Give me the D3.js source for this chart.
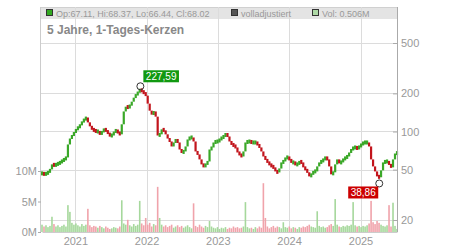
<!DOCTYPE html>
<html>
<head>
<meta charset="utf-8" />
<title>Kerzen</title>
<script src="https://d3js.org/d3.v7.min.js"></script>
<style>
body { margin: 0; background: #fff; }
text { font-family: "Liberation Sans", Arial, sans-serif; }
</style>
</head>
<body>
<script>
// closing prices, every 10 days
var closes = [
	46.7, 45.9, 46.7, 47.6, 50.2, 55.0, 54.0, 55.0, 56.0, 57.0,
	59.0, 60.2, 62.4, 79.0, 88.0, 93.0, 98.0, 104, 108, 112,
	120, 124, 129, 118, 110, 104, 102, 100, 100, 95,
	100, 104, 102, 96, 93, 93, 100, 102, 98, 95,
	114, 144, 157, 155, 160, 172, 185, 196, 203, 217,
	206, 203, 192, 166, 146, 136, 144, 131, 93, 95,
	104, 102, 95, 88, 83.4, 76.2, 81.9, 86.5, 81.9, 72.1,
	68.3, 69.6, 76.2, 86.5, 89.7, 89.7, 83.4, 69.6, 65.9, 60.2,
	55.0, 53.0, 55.0, 58.0, 72.1, 74.8, 81.9, 83.4, 83.4, 86.5,
	89.7, 91.3, 96.4, 91.3, 83.4, 79.0, 77.6, 74.8, 68.3, 65.9,
	63.5, 69.6, 81.9, 83.4, 83.4, 81.9, 81.9, 81.9, 79.0, 74.8,
	69.6, 63.5, 60.2, 57.0, 55.0, 53.0, 52.1, 48.4, 47.6, 51.0,
	57.0, 58.0, 62.4, 62.4, 60.2, 57.0, 57.0, 55.0, 55.0, 58.0,
	57.0, 52.1, 50.2, 47.6, 44.2, 45.9, 48.4, 48.4, 53.0, 57.0,
	58.0, 60.2, 62.4, 60.2, 53.0, 45.9, 47.6, 55.0, 60.2, 56.0,
	58.0, 60.2, 62.4, 63.5, 68.3, 72.1, 74.8, 74.8, 73.5, 76.2,
	79.0, 81.9, 81.9, 81.9, 76.2, 60.2, 53.0, 48.4, 44.2, 43.5,
	49.3, 57.0, 58.0, 58.0, 55.0, 52.1, 60.2, 67.0, 68.02
];

// volume in millions
var volumes = [
	1.2, 0.9, 1.1, 0.8, 1.0, 2.5, 1.3, 0.9, 1.1, 0.8,
	1.0, 1.2, 0.9, 4.4, 3.3, 1.5, 1.2, 1.4, 1.1, 0.9,
	1.3, 1.0, 1.2, 3.8, 1.1, 0.8, 1.0, 0.9, 0.7, 1.0,
	0.8, 0.6, 0.9, 0.7, 0.5, 0.6, 0.8, 0.7, 0.6, 0.9,
	5.2, 1.4, 1.2, 2.0, 1.1, 0.9, 1.3, 1.0, 1.2, 5.1,
	1.4, 1.1, 2.3, 1.2, 1.5, 0.9, 1.3, 1.1, 7.4, 2.3,
	1.2, 0.9, 1.1, 0.8, 1.0, 1.2, 0.7, 0.9, 1.1, 0.8,
	1.0, 0.7, 0.9, 1.1, 0.8, 0.6, 4.7, 1.0, 0.8, 1.2,
	0.9, 0.7, 1.0, 0.8, 1.8, 0.9, 0.7, 0.6, 0.8, 0.5,
	0.7, 0.6, 0.8, 0.5, 0.7, 0.6, 0.9, 0.7, 0.8, 0.6,
	0.7, 0.9, 4.9, 0.8, 0.6, 0.7, 0.5, 0.8, 0.6, 0.9,
	0.7, 8.0, 2.3, 0.9, 0.6, 0.8, 1.0, 0.7, 0.9, 0.8,
	0.6, 1.6, 0.8, 0.7, 0.9, 0.6, 0.8, 0.7, 0.5, 0.8,
	0.7, 0.9, 0.8, 1.0, 1.2, 0.9, 0.8, 0.7, 3.4, 1.0,
	0.8, 0.9, 0.7, 0.8, 1.1, 1.3, 1.0, 5.4, 1.2, 0.9,
	0.8, 1.0, 0.9, 1.1, 1.0, 1.2, 4.9, 1.1, 0.9, 1.0,
	0.8, 1.0, 0.9, 1.1, 1.4, 5.1, 1.6, 1.3, 1.8, 1.5,
	1.2, 1.0, 0.9, 1.1, 4.4, 0.9, 4.8, 1.0, 0.506
];

var priceTicks = [20, 50, 100, 200, 500];
var volTicks = [0, 5, 10];
var startDate = new Date(2020, 6, 14), endDate = new Date(2025, 6, 7);

var extremes = [
	{ date: new Date(2021, 10, 30), value: 227.59, label: "227,59", color: "#119911", side: "up" },
	{ date: new Date(2025, 3, 7), value: 38.86, label: "38,86", color: "#cc0000", side: "down" }
];

var legend = [
	{ x: 46, fill: "#33aa22", t: "Op:67.11, Hi:68.37, Lo:66.44, Cl:68.02" },
	{ x: 231, fill: "#555555", t: "volladjustiert" },
	{ x: 312, fill: "#aed9a6", t: "Vol: 0.506M" }
];

var L = 41, R = 397, T = 7, B = 232;

var n = closes.length;
var dates = d3.range(n).map(function(i){ return new Date(+startDate + i * (endDate - startDate) / (n - 1)); });
var candles = closes.map(function(c, i){
	return { date: dates[i], open: i ? closes[i-1] : c, close: c, vol: volumes[i] };
});

var svg = d3.select("body").append("svg")
		.attr("width", 450)
		.attr("height", 250);

var x = d3.scaleTime().domain([startDate, endDate]).range([L + 1, R]);
var y = d3.scaleLog().domain([20, 500]).range([220, 43]);
var v = d3.scaleLinear().domain([0, 10]).range([B, 171]);

// header band
svg.append("rect").attr("x", L).attr("y", T).attr("width", R - L).attr("height", 12).attr("fill", "#e4e4e4");
svg.append("line").attr("x1", L).attr("x2", R).attr("y1", T + 0.5).attr("y2", T + 0.5).attr("stroke", "#d0d0d0");

// grid
var grid = svg.append("g").attr("stroke", "#dcdcdc").attr("stroke-width", 1);
grid.selectAll(".gx")
	.data(x.ticks(d3.timeYear))
	.enter().append("line")
	.attr("x1", function(d){ return Math.round(x(d)) + 0.5; })
	.attr("x2", function(d){ return Math.round(x(d)) + 0.5; })
	.attr("y1", T).attr("y2", B);
grid.selectAll(".gy")
	.data(priceTicks)
	.enter().append("line")
	.attr("x1", L).attr("x2", R)
	.attr("y1", function(d){ return Math.round(y(d)) + 0.5; })
	.attr("y2", function(d){ return Math.round(y(d)) + 0.5; });

// volume
svg.append("g").selectAll("rect")
	.data(candles)
	.enter().append("rect")
	.attr("x", function(d){ return x(d.date) - 0.8; })
	.attr("width", 1.6)
	.attr("y", function(d){ return v(d.vol); })
	.attr("height", function(d){ return B - v(d.vol); })
	.attr("fill", function(d){ return d.close >= d.open ? "#a6d89c" : "#f0a3ab"; });

// candles
svg.append("g").selectAll("rect")
	.data(candles)
	.enter().append("rect")
	.attr("x", function(d){ return x(d.date) - 1.1; })
	.attr("width", 2.2)
	.attr("y", function(d){
		var a = y(d.open), b = y(d.close), m = (a + b) / 2;
		return Math.abs(a - b) < 4 ? m - 2 : Math.min(a, b);
	})
	.attr("height", function(d){ return Math.max(4, Math.abs(y(d.open) - y(d.close))); })
	.attr("fill", function(d){ return d.close >= d.open ? "#3aa828" : "#c2141c"; });

// axes
var xAxis = svg.append("g")
	.attr("transform", "translate(0," + B + ")")
	.call(d3.axisBottom(x).ticks(d3.timeYear).tickFormat(d3.timeFormat("%Y")).tickSize(0).tickPadding(5));
xAxis.select(".domain").attr("stroke", "#cccccc");

var yAxis = svg.append("g")
	.attr("transform", "translate(" + R + ",0)")
	.call(d3.axisRight(y).tickValues(priceTicks).tickFormat(d3.format("d")).tickSizeInner(-4).tickSizeOuter(0).tickPadding(4));
yAxis.select(".domain").attr("d", "M0.5," + T + "V" + B).attr("stroke", "#aaaaaa");

var vAxis = svg.append("g")
	.attr("transform", "translate(" + L + ",0)")
	.call(d3.axisLeft(v).tickValues(volTicks).tickFormat(function(d){ return d + "M"; }).tickSizeInner(3).tickSizeOuter(0).tickPadding(1));
vAxis.select(".domain").attr("d", "M-0.5," + T + "V" + B).attr("stroke", "#cccccc");

svg.selectAll(".tick line").attr("stroke", "#aaaaaa");
svg.selectAll(".tick text").attr("fill", "#999999").attr("font-size", 11)
	.attr("font-family", "'Liberation Sans', Arial, sans-serif");

// header legend
var lg = svg.append("g").selectAll("g").data(legend).enter().append("g");
lg.append("rect")
	.attr("x", function(d){ return d.x + 0.5; }).attr("y", 9.5)
	.attr("width", 6).attr("height", 6)
	.attr("fill", function(d){ return d.fill; })
	.attr("stroke", "#333");
lg.append("text")
	.attr("x", function(d){ return d.x + 10; }).attr("y", 16.5)
	.attr("font-size", 9).attr("fill", "#999")
	.text(function(d){ return d.t; });

svg.append("text").attr("x", 47).attr("y", 34)
	.attr("font-size", 12).attr("font-weight", "bold").attr("fill", "#888")
	.text("5 Jahre, 1-Tages-Kerzen");

// high / low markers
extremes.forEach(function(e){
	var cx = x(e.date), cy = y(e.value);
	svg.append("circle").attr("cx", cx).attr("cy", cy).attr("r", 3.5)
		.attr("fill", "none").attr("stroke", "#333").attr("stroke-width", 1);
	var g = svg.append("g");
	var t = g.append("text").attr("font-size", 10).attr("fill", "#fff")
		.attr("text-anchor", "middle").text(e.label);
	var w = t.node().getComputedTextLength() + 5, h = 12;
	var bx = e.side === "up" ? cx + 3 : cx - w - 1;
	var by = e.side === "up" ? cy - h - 4 : cy + 3;
	g.insert("rect", "text").attr("x", bx).attr("y", by).attr("width", w).attr("height", h).attr("fill", e.color);
	t.attr("x", bx + w / 2).attr("y", by + 10);
});
</script>
</body>
</html>
